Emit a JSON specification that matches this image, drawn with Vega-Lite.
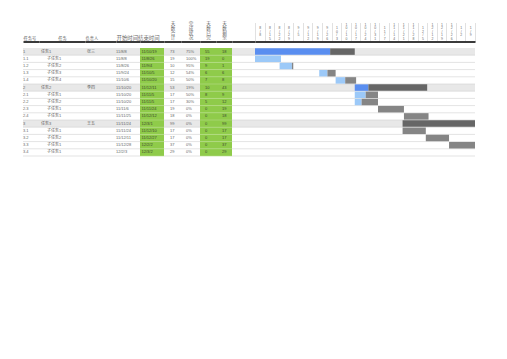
{
  "$schema": "https://vega.github.io/schema/vega-lite/v6.json",
  "background": "white",
  "padding": {"left": 22, "top": 20, "right": 5, "bottom": 5},
  "spacing": 0,
  "bounds": "flush",
  "data": {"values": [
    {"id":"1","task":"任务1","owner":"张三","start":"11/8/8","end":"11/10/19","total":"73","pct":"75%","done":"55","remain":"18","level":"main","s":"2011-08-08","m":"2011-10-02","e":"2011-10-20"},
    {"id":"1.1","task":"子任务1","owner":"","start":"11/8/8","end":"11/8/26","total":"19","pct":"100%","done":"19","remain":"0","level":"sub","s":"2011-08-08","m":"2011-08-27","e":"2011-08-27"},
    {"id":"1.2","task":"子任务2","owner":"","start":"11/8/26","end":"11/9/4","total":"10","pct":"95%","done":"9","remain":"1","level":"sub","s":"2011-08-26","m":"2011-09-04","e":"2011-09-05"},
    {"id":"1.3","task":"子任务3","owner":"","start":"11/9/24","end":"11/10/5","total":"12","pct":"54%","done":"6","remain":"6","level":"sub","s":"2011-09-24","m":"2011-09-30","e":"2011-10-06"},
    {"id":"1.4","task":"子任务4","owner":"","start":"11/10/6","end":"11/10/20","total":"15","pct":"50%","done":"7","remain":"8","level":"sub","s":"2011-10-06","m":"2011-10-13","e":"2011-10-21"},
    {"id":"2","task":"任务2","owner":"李四","start":"11/10/20","end":"11/12/11","total":"53","pct":"19%","done":"10","remain":"43","level":"main","s":"2011-10-20","m":"2011-10-30","e":"2011-12-12"},
    {"id":"2.1","task":"子任务1","owner":"","start":"11/10/20","end":"11/11/5","total":"17","pct":"50%","done":"8","remain":"9","level":"sub","s":"2011-10-20","m":"2011-10-28","e":"2011-11-06"},
    {"id":"2.2","task":"子任务2","owner":"","start":"11/10/20","end":"11/11/5","total":"17","pct":"30%","done":"5","remain":"12","level":"sub","s":"2011-10-20","m":"2011-10-25","e":"2011-11-06"},
    {"id":"2.3","task":"子任务1","owner":"","start":"11/11/6","end":"11/11/24","total":"19","pct":"0%","done":"0","remain":"19","level":"sub","s":"2011-11-06","m":"2011-11-06","e":"2011-11-25"},
    {"id":"2.4","task":"子任务1","owner":"","start":"11/11/25","end":"11/12/12","total":"18","pct":"0%","done":"0","remain":"18","level":"sub","s":"2011-11-25","m":"2011-11-25","e":"2011-12-13"},
    {"id":"3","task":"任务3","owner":"王五","start":"11/11/24","end":"12/3/1","total":"99","pct":"0%","done":"0","remain":"99","level":"main","s":"2011-11-24","m":"2011-11-24","e":"2012-03-03"},
    {"id":"3.1","task":"子任务1","owner":"","start":"11/11/24","end":"11/12/10","total":"17","pct":"0%","done":"0","remain":"17","level":"sub","s":"2011-11-24","m":"2011-11-24","e":"2011-12-11"},
    {"id":"3.2","task":"子任务2","owner":"","start":"11/12/11","end":"11/12/27","total":"17","pct":"0%","done":"0","remain":"17","level":"sub","s":"2011-12-11","m":"2011-12-11","e":"2011-12-28"},
    {"id":"3.3","task":"子任务1","owner":"","start":"11/12/28","end":"12/2/2","total":"37","pct":"0%","done":"0","remain":"37","level":"sub","s":"2011-12-28","m":"2011-12-28","e":"2012-02-03"},
    {"id":"3.4","task":"子任务1","owner":"","start":"12/2/3","end":"12/3/2","total":"29","pct":"0%","done":"0","remain":"29","level":"sub","s":"2012-02-03","m":"2012-02-03","e":"2012-03-03"}
  ]},
  "config": {
    "view": {"stroke": null},
    "axis": {"domainColor": "#3a3a3a", "domainWidth": 2, "ticks": false, "labels": false, "grid": false, "offset": 6.5, "titleFont": "Noto Sans CJK SC", "titleFontSize": 4.2, "titleFontWeight": "normal", "titleColor": "#666666", "titlePadding": 1.5},
    "text": {"font": "Liberation Sans, Noto Sans CJK SC", "fontSize": 4, "color": "#666666", "align": "left", "baseline": "middle"}
  },
  "hconcat": [
    {"width": 16, "height": 108, "layer": [
      {"mark": "rect", "encoding": {"y": {"field":"id","type":"nominal","axis":null,"scale":{"domain":["1","1.1","1.2","1.3","1.4","2","2.1","2.2","2.3","2.4","3","3.1","3.2","3.3","3.4"],"paddingInner":0,"paddingOuter":0}}, "color": {"condition": {"test": "datum.level==='main'", "value": "#e8e8e8"}, "value": "#ffffff"}}},
      {"mark": {"type": "rule", "color": "#d0d0d0", "strokeWidth": 0.6}, "encoding": {"y": {"field":"id","type":"nominal","axis":null,"bandPosition":1}}},
      {"mark": {"type": "text", "dx": 0}, "encoding": {"y": {"field":"id","type":"nominal","axis":null}, "x": {"datum": 0, "type": "quantitative", "scale": {"domain": [0, 1]}, "axis": {"orient": "top", "title": "任务号", "titleAnchor": "start", "titleAlign": "left"}}, "text": {"field": "id"}}}
    ]},
    {"width": 46, "height": 108, "layer": [
      {"mark": "rect", "encoding": {"y": {"field":"id","type":"nominal","axis":null,"scale":{"domain":["1","1.1","1.2","1.3","1.4","2","2.1","2.2","2.3","2.4","3","3.1","3.2","3.3","3.4"],"paddingInner":0,"paddingOuter":0}}, "color": {"condition": {"test": "datum.level==='main'", "value": "#e8e8e8"}, "value": "#ffffff"}}},
      {"mark": {"type": "rule", "color": "#d0d0d0", "strokeWidth": 0.6}, "encoding": {"y": {"field":"id","type":"nominal","axis":null,"bandPosition":1}}},
      {"transform": [{"filter": "datum.level==='main'"}], "mark": {"type": "text", "dx": 2}, "encoding": {"y": {"field":"id","type":"nominal","axis":null}, "x": {"datum": 0, "type": "quantitative", "scale": {"domain": [0, 1]}, "axis": {"orient": "top", "title": "任务", "titleAnchor": "middle", "titleAlign": "center"}}, "text": {"field": "task"}}},
      {"transform": [{"filter": "datum.level==='sub'"}], "mark": {"type": "text", "dx": 8}, "encoding": {"y": {"field":"id","type":"nominal","axis":null}, "x": {"datum": 0, "type": "quantitative"}, "text": {"field": "task"}}}
    ]},
    {"width": 31, "height": 108, "layer": [
      {"mark": "rect", "encoding": {"y": {"field":"id","type":"nominal","axis":null,"scale":{"domain":["1","1.1","1.2","1.3","1.4","2","2.1","2.2","2.3","2.4","3","3.1","3.2","3.3","3.4"],"paddingInner":0,"paddingOuter":0}}, "color": {"condition": {"test": "datum.level==='main'", "value": "#e8e8e8"}, "value": "#ffffff"}}},
      {"mark": {"type": "rule", "color": "#d0d0d0", "strokeWidth": 0.6}, "encoding": {"y": {"field":"id","type":"nominal","axis":null,"bandPosition":1}}},
      {"mark": {"type": "text", "dx": 2}, "encoding": {"y": {"field":"id","type":"nominal","axis":null}, "x": {"datum": 0, "type": "quantitative", "scale": {"domain": [0, 1]}, "axis": {"orient": "top", "title": "负责人", "titleAnchor": "start", "titleAlign": "left"}}, "text": {"field": "owner"}}}
    ]},
    {"width": 24, "height": 108, "layer": [
      {"mark": "rect", "encoding": {"y": {"field":"id","type":"nominal","axis":null,"scale":{"domain":["1","1.1","1.2","1.3","1.4","2","2.1","2.2","2.3","2.4","3","3.1","3.2","3.3","3.4"],"paddingInner":0,"paddingOuter":0}}, "color": {"condition": {"test": "datum.level==='main'", "value": "#e8e8e8"}, "value": "#ffffff"}}},
      {"mark": {"type": "rule", "color": "#d0d0d0", "strokeWidth": 0.6}, "encoding": {"y": {"field":"id","type":"nominal","axis":null,"bandPosition":1}}},
      {"mark": {"type": "text", "dx": 0}, "encoding": {"y": {"field":"id","type":"nominal","axis":null}, "x": {"datum": 0, "type": "quantitative", "scale": {"domain": [0, 1]}, "axis": {"orient": "top", "title": "开始时间结束时间", "titleAnchor": "start", "titleAlign": "left", "titleFontSize": 5.4}}, "text": {"field": "start"}}}
    ]},
    {"width": 24, "height": 108, "layer": [
      {"mark": {"type": "rect", "color": "#8fcb4a"}, "encoding": {"y": {"field":"id","type":"nominal","axis":null,"scale":{"domain":["1","1.1","1.2","1.3","1.4","2","2.1","2.2","2.3","2.4","3","3.1","3.2","3.3","3.4"],"paddingInner":0,"paddingOuter":0}}}},
      {"mark": {"type": "rule", "color": "#b5dc88", "strokeWidth": 0.6}, "encoding": {"y": {"field":"id","type":"nominal","axis":null,"bandPosition":1}}},
      {"mark": {"type": "text", "dx": 1.5, "color": "#3d4a30"}, "encoding": {"y": {"field":"id","type":"nominal","axis":null}, "x": {"datum": 0, "type": "quantitative", "scale": {"domain": [0, 1]}, "axis": {"orient": "top", "title": null}}, "text": {"field": "end"}}}
    ]},
    {"width": 17, "height": 108, "layer": [
      {"mark": "rect", "encoding": {"y": {"field":"id","type":"nominal","axis":null,"scale":{"domain":["1","1.1","1.2","1.3","1.4","2","2.1","2.2","2.3","2.4","3","3.1","3.2","3.3","3.4"],"paddingInner":0,"paddingOuter":0}}, "color": {"condition": {"test": "datum.level==='main'", "value": "#e8e8e8"}, "value": "#ffffff"}}},
      {"mark": {"type": "rule", "color": "#d0d0d0", "strokeWidth": 0.6}, "encoding": {"y": {"field":"id","type":"nominal","axis":null,"bandPosition":1}}},
      {"mark": {"type": "text", "dx": 6}, "encoding": {"y": {"field":"id","type":"nominal","axis":null}, "x": {"datum": 0, "type": "quantitative", "scale": {"domain": [0, 1]}, "axis": {"orient": "top", "title": ["天","数","合","计"], "titleAnchor": "middle", "titleAlign": "center", "titleFontSize": 4.6, "titleLineHeight": 4.8}}, "text": {"field": "total"}}}
    ]},
    {"width": 19, "height": 108, "layer": [
      {"mark": "rect", "encoding": {"y": {"field":"id","type":"nominal","axis":null,"scale":{"domain":["1","1.1","1.2","1.3","1.4","2","2.1","2.2","2.3","2.4","3","3.1","3.2","3.3","3.4"],"paddingInner":0,"paddingOuter":0}}, "color": {"condition": {"test": "datum.level==='main'", "value": "#e8e8e8"}, "value": "#ffffff"}}},
      {"mark": {"type": "rule", "color": "#d0d0d0", "strokeWidth": 0.6}, "encoding": {"y": {"field":"id","type":"nominal","axis":null,"bandPosition":1}}},
      {"mark": {"type": "text", "dx": 5}, "encoding": {"y": {"field":"id","type":"nominal","axis":null}, "x": {"datum": 0, "type": "quantitative", "scale": {"domain": [0, 1]}, "axis": {"orient": "top", "title": ["完","成","状","况"], "titleAnchor": "middle", "titleAlign": "center", "titleFontSize": 4.6, "titleLineHeight": 4.8}}, "text": {"field": "pct"}}}
    ]},
    {"width": 16, "height": 108, "layer": [
      {"mark": {"type": "rect", "color": "#8fcb4a"}, "encoding": {"y": {"field":"id","type":"nominal","axis":null,"scale":{"domain":["1","1.1","1.2","1.3","1.4","2","2.1","2.2","2.3","2.4","3","3.1","3.2","3.3","3.4"],"paddingInner":0,"paddingOuter":0}}}},
      {"mark": {"type": "rule", "color": "#b5dc88", "strokeWidth": 0.6}, "encoding": {"y": {"field":"id","type":"nominal","axis":null,"bandPosition":1}}},
      {"mark": {"type": "text", "dx": 5, "color": "#3d4a30"}, "encoding": {"y": {"field":"id","type":"nominal","axis":null}, "x": {"datum": 0, "type": "quantitative", "scale": {"domain": [0, 1]}, "axis": {"orient": "top", "title": ["天","数","已","完"], "titleAnchor": "middle", "titleAlign": "center", "titleFontSize": 4.6, "titleLineHeight": 4.8}}, "text": {"field": "done"}}}
    ]},
    {"width": 16, "height": 108, "layer": [
      {"mark": {"type": "rect", "color": "#8fcb4a"}, "encoding": {"y": {"field":"id","type":"nominal","axis":null,"scale":{"domain":["1","1.1","1.2","1.3","1.4","2","2.1","2.2","2.3","2.4","3","3.1","3.2","3.3","3.4"],"paddingInner":0,"paddingOuter":0}}}},
      {"mark": {"type": "rule", "color": "#b5dc88", "strokeWidth": 0.6}, "encoding": {"y": {"field":"id","type":"nominal","axis":null,"bandPosition":1}}},
      {"mark": {"type": "text", "dx": 6, "color": "#3d4a30"}, "encoding": {"y": {"field":"id","type":"nominal","axis":null}, "x": {"datum": 0, "type": "quantitative", "scale": {"domain": [0, 1]}, "axis": {"orient": "top", "title": ["天","数","剩","余"], "titleAnchor": "middle", "titleAlign": "center", "titleFontSize": 4.6, "titleLineHeight": 4.8}}, "text": {"field": "remain"}}}
    ]},
    {"width": 23, "height": 108, "layer": [
      {"mark": "rect", "encoding": {"y": {"field":"id","type":"nominal","axis":null,"scale":{"domain":["1","1.1","1.2","1.3","1.4","2","2.1","2.2","2.3","2.4","3","3.1","3.2","3.3","3.4"],"paddingInner":0,"paddingOuter":0}}, "color": {"condition": {"test": "datum.level==='main'", "value": "#e8e8e8"}, "value": "#ffffff"}}},
      {"mark": {"type": "rule", "color": "#d0d0d0", "strokeWidth": 0.6}, "encoding": {"y": {"field":"id","type":"nominal","axis":null,"bandPosition":1}}},
      {"mark": {"type": "text"}, "encoding": {"y": {"field":"id","type":"nominal","axis":null}, "x": {"datum": 0, "type": "quantitative", "scale": {"domain": [0, 1]}, "axis": {"orient": "top", "title": null}}, "text": {"value": ""}}}
    ]},
    {"width": 220, "height": 108, "layer": [
      {"mark": "rect", "encoding": {"y": {"field":"id","type":"nominal","axis":null,"scale":{"domain":["1","1.1","1.2","1.3","1.4","2","2.1","2.2","2.3","2.4","3","3.1","3.2","3.3","3.4"],"paddingInner":0,"paddingOuter":0}}, "color": {"condition": {"test": "datum.level==='main'", "value": "#e8e8e8"}, "value": "#ffffff"}}},
      {"mark": {"type": "rule", "color": "#d0d0d0", "strokeWidth": 0.6}, "encoding": {"y": {"field":"id","type":"nominal","axis":null,"bandPosition":1}}},
      {"mark": {"type": "bar", "height": {"band": 0.9}, "clip": true}, "encoding": {
        "y": {"field":"id","type":"nominal","axis":null},
        "x": {"field": "s", "type": "temporal", "scale": {"type": "utc", "domain": [1312761600000, 1326672000000]},
          "axis": {"orient": "top", "title": null, "labels": true, "ticks": true, "tickSize": 19, "tickColor": "#cccccc", "tickWidth": 0.6, "labelPadding": 0.5, "labelOffset": 4.8, "labelFont": "Liberation Sans", "labelFontSize": 3.4, "labelLineHeight": 3.5, "labelColor": "#666666", "labelAlign": "center", "labelBaseline": "top", "labelAngle": 0, "labelOverlap": false, "labelFlush": false, "labelBound": false,
            "values": [1312761600000, 1313366400000, 1313971200000, 1314576000000, 1315180800000, 1315785600000, 1316390400000, 1316995200000, 1317600000000, 1318204800000, 1318809600000, 1319414400000, 1320019200000, 1320624000000, 1321228800000, 1321833600000, 1322438400000, 1323043200000, 1323648000000, 1324252800000, 1324857600000, 1325462400000, 1326067200000, 1326672000000],
            "labelExpr": "datum.value >= 1326672000000 ? '' : split(pad(utcFormat(datum.value, '%-m/%-d'), 5, ' ', 'left'), '')"}},
        "x2": {"field": "m"},
        "color": {"condition": {"test": "datum.level==='main'", "value": "#5a8ef0"}, "value": "#9cc9f8"}
      }},
      {"mark": {"type": "bar", "height": {"band": 0.9}, "clip": true}, "encoding": {
        "y": {"field":"id","type":"nominal","axis":null},
        "x": {"field": "m", "type": "temporal",
          "axis": {"orient": "top", "title": null, "labels": true, "ticks": true, "tickSize": 19, "tickColor": "#cccccc", "tickWidth": 0.6, "labelPadding": 0.5, "labelOffset": 4.8, "labelFont": "Liberation Sans", "labelFontSize": 3.4, "labelLineHeight": 3.5, "labelColor": "#666666", "labelAlign": "center", "labelBaseline": "top", "labelAngle": 0, "labelOverlap": false, "labelFlush": false, "labelBound": false,
            "values": [1312761600000, 1313366400000, 1313971200000, 1314576000000, 1315180800000, 1315785600000, 1316390400000, 1316995200000, 1317600000000, 1318204800000, 1318809600000, 1319414400000, 1320019200000, 1320624000000, 1321228800000, 1321833600000, 1322438400000, 1323043200000, 1323648000000, 1324252800000, 1324857600000, 1325462400000, 1326067200000, 1326672000000],
            "labelExpr": "datum.value >= 1326672000000 ? '' : split(pad(utcFormat(datum.value, '%-m/%-d'), 5, ' ', 'left'), '')"}},
        "x2": {"field": "e"},
        "color": {"condition": {"test": "datum.level==='main'", "value": "#666666"}, "value": "#858585"}
      }}
    ]}
  ]
}
